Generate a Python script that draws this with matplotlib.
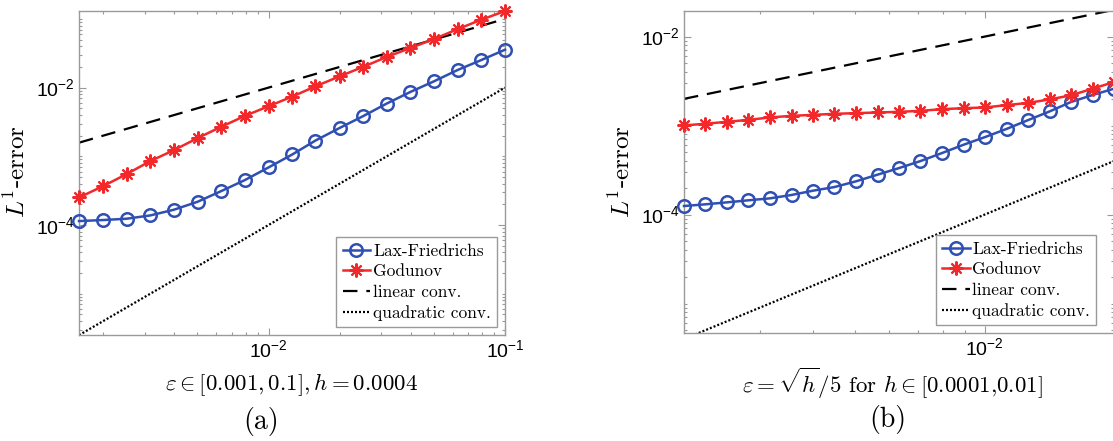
import numpy as np
import matplotlib
matplotlib.use('Agg')
import matplotlib.pyplot as plt
from matplotlib.ticker import FixedLocator, LogLocator, LogFormatterSciNotation, NullFormatter
from matplotlib.font_manager import FontProperties

# (a) epsilon in [0.001, 0.1], h = 0.0004
eps_a = [0.00158, 0.002, 0.00251, 0.00316, 0.00398, 0.00501, 0.00631, 0.00794,
         0.01, 0.0126, 0.0158, 0.02, 0.0251, 0.0316, 0.0398, 0.0501, 0.0631,
         0.0794, 0.1]
lf_a = [1.143e-4, 1.183e-4, 1.236e-4, 1.380e-4, 1.671e-4, 2.18e-4, 3.12e-4,
        4.51e-4, 6.89e-4, 1.064e-3, 1.698e-3, 2.59e-3, 3.84e-3, 5.86e-3,
        8.65e-3, 1.236e-2, 1.807e-2, 2.52e-2, 3.56e-2]
god_a = [2.52e-4, 3.69e-4, 5.51e-4, 8.51e-4, 1.23e-3, 1.84e-3, 2.69e-3,
         3.87e-3, 5.36e-3, 7.40e-3, 1.045e-2, 1.46e-2, 2.00e-2, 2.79e-2,
         3.77e-2, 5.09e-2, 7.11e-2, 9.73e-2, 0.13]
ref_x_a = [0.00158, 0.1]
lin_a = [0.00158, 0.1]
quad_a = [2.5e-6, 0.01]

# (b) epsilon = sqrt(h)/5, h in [0.0001, 0.01]
eps_b = [0.002, 0.002244, 0.002518, 0.002825, 0.00317, 0.003557, 0.003991,
         0.004477, 0.005024, 0.005637, 0.006325, 0.007096, 0.007962, 0.008934,
         0.01002, 0.01125, 0.01262, 0.01416, 0.01589, 0.01783, 0.02]
lf_b = [1.250e-4, 1.306e-4, 1.374e-4, 1.449e-4, 1.524e-4, 1.663e-4, 1.858e-4,
        2.042e-4, 2.366e-4, 2.812e-4, 3.334e-4, 3.999e-4, 4.920e-4, 6.095e-4,
        7.430e-4, 9.18e-4, 1.153e-3, 1.442e-3, 1.845e-3, 2.208e-3, 2.600e-3]
god_b = [1.005e-3, 1.05e-3, 1.104e-3, 1.161e-3, 1.236e-3, 1.288e-3, 1.321e-3,
         1.358e-3, 1.380e-3, 1.406e-3, 1.429e-3, 1.466e-3, 1.531e-3, 1.570e-3,
         1.600e-3, 1.70e-3, 1.80e-3, 1.97e-3, 2.19e-3, 2.60e-3, 3.09e-3]
ref_x_b = [0.002, 0.02]
lin_b = [0.002, 0.02]
quad_b = [4e-6, 4e-4]

labels = ['Lax-Friedrichs', 'Godunov', 'linear conv.', 'quadratic conv.']

BLUE = '#2f4fb3'
RED = '#f2282a'
GRAY = '#9a9a9a'

plt.rcParams['mathtext.fontset'] = 'custom'
plt.rcParams['mathtext.rm'] = 'Liberation Sans'
plt.rcParams['mathtext.it'] = 'Liberation Sans:italic'
plt.rcParams['mathtext.bf'] = 'Liberation Sans:bold'
plt.rcParams['font.family'] = 'Liberation Sans'


def draw_panel(ax, x, lf, god, rx, lin, quad, xlim, ylim, leg_anchor):
    ax.plot(x, lf, '-o', color=BLUE, lw=1.8, ms=9, mfc='none', mew=1.8,
            clip_on=False, zorder=4)
    ax.plot(x, god, '-', marker=(8, 2, 0), color=RED, lw=1.8, ms=10, mew=1.5,
            clip_on=False, zorder=4)
    ax.plot(rx, lin, color='black', lw=1.6, dashes=(6.5, 4))
    ax.plot(rx, quad, color='black', lw=1.6, ls=(0, (0.9, 0.9)))
    ax.set_xscale('log')
    ax.set_yscale('log')
    ax.set_xlim(*xlim)
    ax.set_ylim(*ylim)
    ax.yaxis.set_major_locator(FixedLocator([1e-6, 1e-4, 1e-2, 1.0]))
    ax.yaxis.set_major_formatter(LogFormatterSciNotation())
    for axis in (ax.xaxis, ax.yaxis):
        axis.set_minor_locator(LogLocator(base=10, subs=np.arange(1, 10), numticks=50))
        axis.set_minor_formatter(NullFormatter())
    ax.tick_params(which='both', direction='in', top=True, right=True,
                   color=GRAY, labelsize=14, width=0.8)
    ax.tick_params(which='major', length=5, pad=3)
    ax.tick_params(which='minor', length=2.5)
    for sp in ax.spines.values():
        sp.set_color(GRAY)
        sp.set_linewidth(1.0)
    leg = ax.legend(labels, loc='lower right', bbox_to_anchor=leg_anchor,
                    prop=FontProperties(family='cmr10', size=12.5),
                    fancybox=False, framealpha=1, edgecolor=GRAY,
                    handlelength=1.6, handletextpad=0.15, labelspacing=0.3,
                    borderpad=0.35, borderaxespad=0)
    leg.get_frame().set_linewidth(1.0)


fig = plt.figure(figsize=(11.13, 4.41), dpi=100)
ax1 = fig.add_axes([79 / 1113, 106 / 441, 426 / 1113, 324 / 441])
ax2 = fig.add_axes([684 / 1113, 108 / 441, 430 / 1113, 322 / 441])

draw_panel(ax1, eps_a, lf_a, god_a, ref_x_a, lin_a, quad_a,
           (0.00158, 0.1), (10 ** -5.6, 10 ** -0.885), (0.981, 0.025))
draw_panel(ax2, eps_b, lf_b, god_b, ref_x_b, lin_b, quad_b,
           (0.002, 0.02), (10 ** -5.33, 10 ** -1.712), (0.959, 0.025))
ax2.xaxis.set_major_locator(FixedLocator([1e-3, 1e-2, 1e-1]))
ax2.xaxis.set_major_formatter(LogFormatterSciNotation())

fig.text(291 / 1113, 1 - 385 / 441, r'$\varepsilon \in [0.001, 0.1], h = 0.0004$',
         ha='center', va='center', fontsize=16.5, math_fontfamily='cm')
fig.text(892 / 1113, 1 - 383 / 441, r'$\varepsilon = \sqrt{h}/5$ for $h \in [0.0001{,}0.01]$',
         ha='center', va='center', fontsize=16.5, family='cmr10', math_fontfamily='cm')
for xc, txt in ((17, r'$L^1$-error'), (622, r'$L^1$-error')):
    fig.text(xc / 1113, 1 - 172 / 441, txt, rotation=90, ha='center', va='center',
             fontsize=18, family='cmr10', math_fontfamily='cm')
fig.text(261 / 1113, 1 - 422 / 441, '(a)', ha='center', va='center',
         fontsize=20, family='cmr10')
fig.text(888 / 1113, 1 - 419 / 441, '(b)', ha='center', va='center',
         fontsize=20, family='cmr10')

fig.savefig('out.png', dpi=100)
